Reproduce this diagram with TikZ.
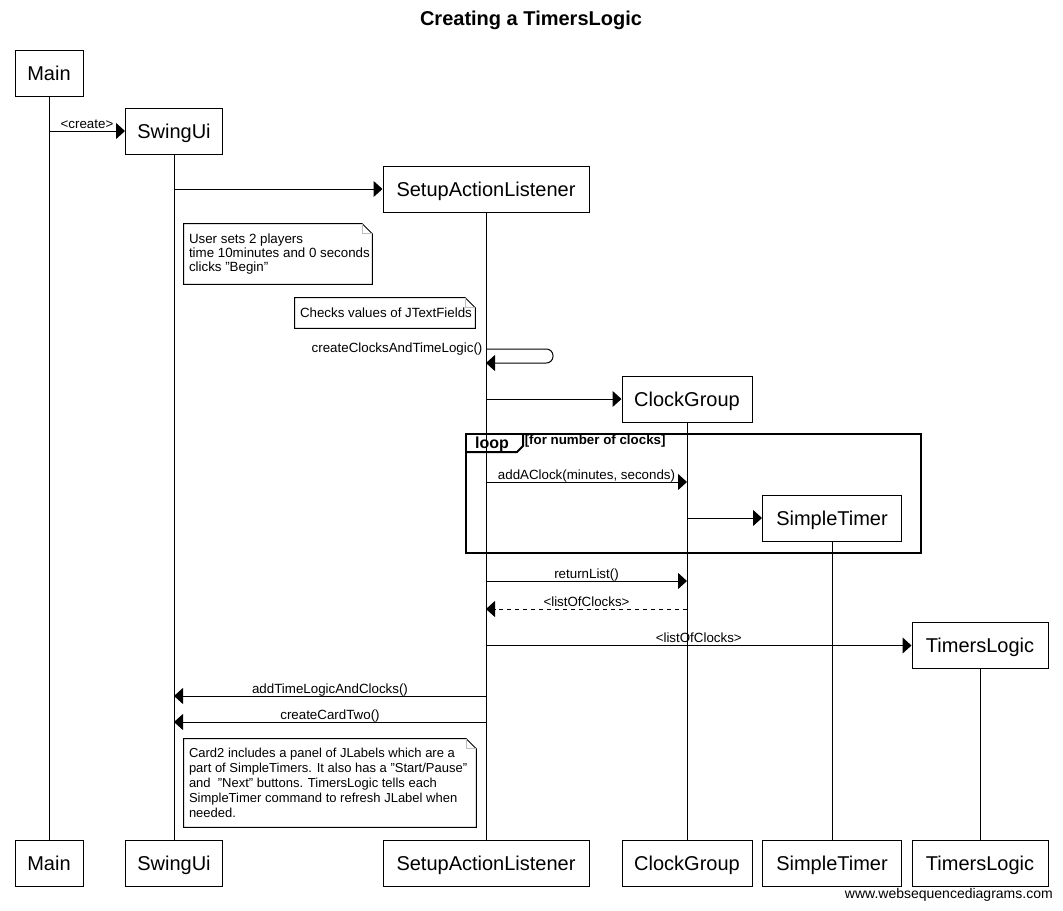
\documentclass[tikz,border=0pt]{standalone}
\usepackage{fontspec}
\setmainfont{Liberation Sans}
\usetikzlibrary{arrows.meta}
\newcommand\dogear[1]{%
  \draw[line width=0.75pt, fill=white] (#1.north west) -- ([xshift=-7.5pt]#1.north east) -- ([yshift=-7.5pt]#1.north east) -- (#1.south east) -- (#1.south west) -- cycle;
  \draw[gray!50, line width=0.75pt] ([xshift=-7.5pt]#1.north east) -- ([xshift=-7.5pt,yshift=-7.5pt]#1.north east) -- ([yshift=-7.5pt]#1.north east);
}
\begin{document}
\begin{tikzpicture}[x=0.75pt,y=-0.75pt,
  pbox/.style={draw, fill=white, line width=0.75pt, minimum height=34.5pt, inner sep=0pt, text height=10.7pt, text depth=0pt, font=\fontsize{15}{18}\selectfont},
  life/.style={line width=0.75pt},
  msg/.style={line width=0.75pt, -{Triangle[length=6.75pt,width=12pt]}},
  ret/.style={msg, dash pattern=on 3pt off 3pt},
  lbl/.style={font=\fontsize{10}{11}\selectfont, inner sep=0pt},
  lblup/.style={lbl, midway, anchor=base, yshift=2pt},
  noteframe/.style={minimum width=#1, inner sep=0pt},
  notetext/.style={font=\fontsize{10}{10.5}\selectfont, align=left, inner sep=0pt, anchor=west},
]
\useasboundingbox (0,0) rectangle (1063,910);

% title
\node[font=\bfseries\fontsize{15}{18}\selectfont] (title) at (531,20) {Creating a TimersLogic};

% participants (top)
\node[pbox, minimum width=51pt] (main) at (49,73) {Main};
\node[pbox, minimum width=72.75pt] (swing) at (174,131) {SwingUi};
\node[pbox, minimum width=154.5pt] (sal) at (486,189) {SetupActionListener};
\node[pbox, minimum width=97.5pt] (cg) at (687,399) {ClockGroup};
\node[pbox, minimum width=104.25pt] (st) at (832,518) {SimpleTimer};
\node[pbox, minimum width=102pt] (tl) at (980,645.5) {TimersLogic};

% participants (bottom)
\node[pbox, minimum width=51pt] (mainB) at (49,863.5) {Main};
\node[pbox, minimum width=72.75pt] (swingB) at (174,863.5) {SwingUi};
\node[pbox, minimum width=154.5pt] (salB) at (486,863.5) {SetupActionListener};
\node[pbox, minimum width=97.5pt] (cgB) at (687,863.5) {ClockGroup};
\node[pbox, minimum width=104.25pt] (stB) at (832,863.5) {SimpleTimer};
\node[pbox, minimum width=102pt] (tlB) at (980,863.5) {TimersLogic};

% lifelines
\draw[life] (main.south) -- (mainB.north);
\draw[life] (swing.south) -- (swingB.north);
\draw[life] (sal.south) -- (salB.north);
\draw[life] (cg.south) -- (cgB.north);
\draw[life] (st.south) -- (stB.north);
\draw[life] (tl.south) -- (tlB.north);

% messages
\draw[msg] (main.south |- 0,131) -- (swing.west) node[lblup] {<create>};
\draw[msg] (swing.south |- 0,189) -- (sal.west);

% note 1
\node[noteframe=141pt, minimum height=45pt] (n1) at (278,254) {};
\dogear{n1}
\node[notetext] (n1t) at ([xshift=3.75pt]n1.west) {User sets 2 players\\time 10minutes and 0 seconds\\clicks "Begin"};

% note 2
\node[noteframe=135pt, minimum height=22.5pt] (n2) at (385,313) {};
\dogear{n2}
\node[notetext] (n2t) at ([xshift=3.75pt]n2.west) {Checks values of JTextFields};

% self message
\coordinate (selfA) at (sal.south |- 0,349);
\coordinate (selfB) at (sal.south |- 0,363);
\draw[msg, rounded corners=5pt] (selfA) -- ++(67,0) -- ++(0,14) -- (selfB);
\node[lbl, anchor=east] (selflbl) at ([xshift=-2.5pt]selfA) {createClocksAndTimeLogic()};

\draw[msg] (sal.south |- 0,399) -- (cg.west);

% loop frame
\node[draw, line width=1.5pt, minimum width=341.25pt, minimum height=89.25pt, inner sep=0pt] (loop) at (693.5,493.5) {};
\draw[line width=1.5pt] (466,452) -- (517,452) -- (523,446) -- (523,434);
\node[font=\bfseries\fontsize{12}{14}\selectfont, inner sep=0pt] (looplbl) at (492,444.5) {loop};
\node[font=\bfseries\fontsize{10}{11}\selectfont, inner sep=0pt, anchor=west] (loopcond) at (524.5,441) {[for number of clocks]};

\draw[msg] (sal.south |- 0,482) -- (cg.south |- 0,482) node[lblup] {addAClock(minutes, seconds)};
\draw[msg] (cg.south |- 0,518) -- (st.west);

\draw[msg] (sal.south |- 0,581) -- (cg.south |- 0,581) node[lblup] {returnList()};
\draw[ret] (cg.south |- 0,609) -- (sal.south |- 0,609) node[lblup] {<listOfClocks>};
\draw[msg] (sal.south |- 0,645.5) -- (tl.west) node[lblup] {<listOfClocks>};
\draw[msg] (sal.south |- 0,696) -- (swing.south |- 0,696) node[lblup] {addTimeLogicAndClocks()};
\draw[msg] (sal.south |- 0,722) -- (swing.south |- 0,722) node[lblup] {createCardTwo()};

% note 3
\node[noteframe=219pt, minimum height=66pt] (n3) at (330,783) {};
\dogear{n3}
\node[notetext, font=\fontsize{9.75}{11.25}\selectfont] (n3t) at ([xshift=3.75pt]n3.west) {Card2 includes a panel of JLabels which are a\\part of SimpleTimers. It also has a "Start/Pause"\\and \ "Next" buttons. TimersLogic tells each\\SimpleTimer command to refresh JLabel when\\needed.};

% watermark
\node[font=\fontsize{10.5}{12}\selectfont, inner sep=0pt, anchor=east] (wm) at (1053,895) {www.websequencediagrams.com};
\end{tikzpicture}
\end{document}
